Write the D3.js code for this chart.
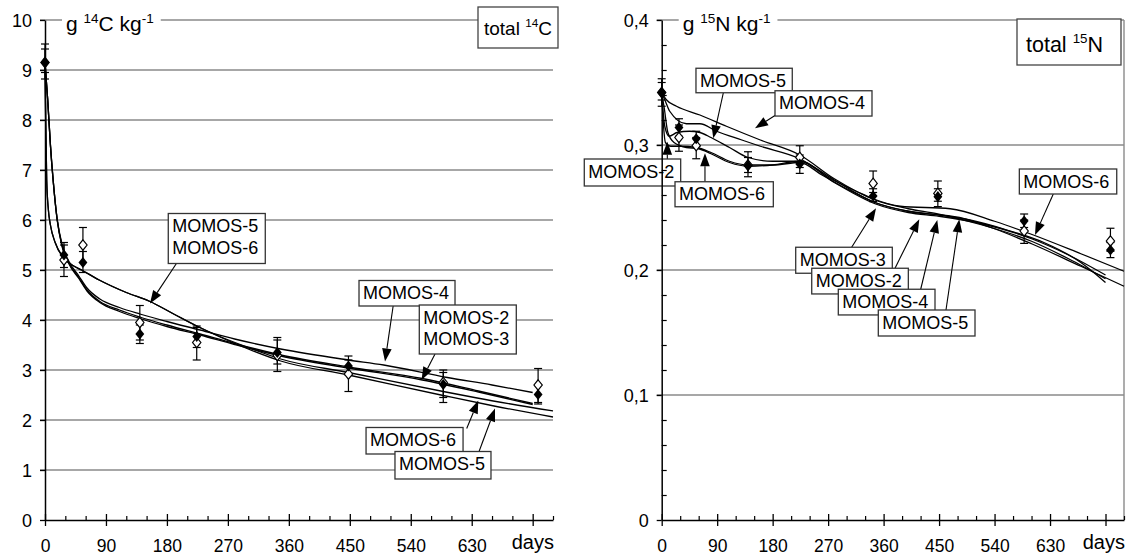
<!DOCTYPE html>
<html lang="en">
  <head>
    <meta charset="utf-8">
    <title>total 14C / total 15N</title>
    <script src="https://cdn.jsdelivr.net/npm/d3@7/dist/d3.min.js"></script>
    <style>
      body { margin: 0; background: #fff; }
      text { font-family: "Liberation Sans", Arial, sans-serif; fill: #000; }
    </style>
  </head>
  <body>
    <svg id="chart" width="1132" height="559"></svg>
    <script>
    // sampling days (both panels)
    var days = [0, 28, 56, 140, 224, 343, 448, 588, 728];

    // total 14C, g 14C kg-1 : filled and open symbols with error bars
    var cFilled   = [9.15, 5.30, 5.15, 3.72, 3.67, 3.35, 3.08, 2.71, 2.51];
    var cFilledLo = [8.82, 5.05, 4.95, 3.53, 3.45, 3.12, 2.90, 2.45, 2.32];
    var cFilledHi = [9.52, 5.55, 5.37, 3.90, 3.88, 3.60, 3.28, 3.00, 2.70];
    var cOpen     = [9.15, 5.20, 5.50, 3.95, 3.55, 3.29, 2.92, 2.75, 2.70];
    var cOpenLo   = [8.95, 4.87, 5.15, 3.60, 3.20, 2.97, 2.57, 2.35, 2.35];
    var cOpenHi   = [9.42, 5.50, 5.85, 4.29, 3.85, 3.65, 3.20, 2.95, 3.03];

    // total 15N, g 15N kg-1
    var nFilled   = [0.342, 0.314, 0.305, 0.2835, 0.2848, 0.2592, 0.2587, 0.2392, 0.2160];
    var nFilledLo = [0.331, 0.307, 0.299, 0.2746, 0.2773, 0.2547, 0.2507, 0.2340, 0.2099];
    var nFilledHi = [0.353, 0.321, 0.311, 0.2946, 0.2920, 0.2650, 0.2650, 0.2448, 0.2220];
    var nOpen     = [0.342, 0.306, 0.2995, 0.284, 0.2901, 0.2693, 0.2613, 0.2312, 0.2232];
    var nOpenLo   = [0.336, 0.295, 0.289, 0.278, 0.2820, 0.2620, 0.2550, 0.2213, 0.2150];
    var nOpenHi   = [0.350, 0.316, 0.306, 0.290, 0.2994, 0.2792, 0.2712, 0.2400, 0.2334];

    // MOMOS simulations, [day, value]
    var c14M2 = [[0,9.15],[4,8.4],[8,7.5],[12,6.8],[18,6.0],[25,5.5],[35,5.15],[50,4.85],[62,4.6],[81,4.37],[110,4.2],[140,4.06],[180,3.9],[229,3.72],[280,3.53],[348,3.3],[448,3.06],[557,2.83],[640,2.58],[720,2.33]];
    var c14M3 = [[0,9.15],[4,8.4],[8,7.5],[12,6.8],[18,6.0],[25,5.48],[35,5.13],[50,4.83],[62,4.58],[81,4.35],[110,4.17],[140,4.03],[180,3.87],[229,3.7],[280,3.51],[348,3.28],[448,3.04],[557,2.8],[640,2.56],[720,2.31]];
    var c14M4 = [[0,9.15],[4,8.4],[8,7.5],[12,6.8],[18,6.02],[25,5.52],[35,5.18],[50,4.88],[62,4.64],[81,4.42],[110,4.25],[140,4.12],[180,3.97],[229,3.8],[280,3.62],[348,3.42],[448,3.2],[500,3.1],[594,2.85],[660,2.7],[720,2.55]];
    var c14M5 = [[0,9.15],[1,8.0],[2.5,6.8],[5,6.2],[8,5.9],[15,5.55],[27,5.25],[40,5.1],[54,5.0],[80,4.8],[120,4.55],[155,4.37],[190,4.12],[224,3.88],[260,3.65],[300,3.42],[348,3.18],[448,2.9],[588,2.49],[663,2.28],[750,2.06]];
    var c14M6 = [[0,9.15],[1,8.0],[2.5,6.8],[5,6.2],[8,5.9],[15,5.55],[27,5.25],[40,5.1],[54,5.0],[80,4.8],[120,4.55],[155,4.37],[190,4.12],[224,3.88],[260,3.66],[300,3.45],[348,3.22],[448,2.95],[588,2.57],[638,2.44],[750,2.18]];

    var n15M2 = [[0,0.342],[3,0.315],[6,0.302],[15,0.299],[30,0.299],[56,0.298],[80,0.294],[110,0.287],[140,0.284],[180,0.284],[224,0.286],[260,0.276],[300,0.265],[346,0.254],[400,0.247],[450,0.244],[500,0.240],[560,0.232],[620,0.222],[680,0.206],[720,0.190]];
    var n15M3 = [[0,0.342],[5,0.315],[12,0.307],[25,0.310],[45,0.311],[62,0.310],[80,0.306],[110,0.298],[140,0.290],[180,0.287],[224,0.287],[280,0.270],[346,0.253],[400,0.246],[450,0.243],[520,0.237],[600,0.225],[660,0.212],[720,0.196]];
    var n15M4 = [[0,0.342],[8,0.336],[24,0.331],[62,0.324],[105,0.315],[160,0.304],[224,0.292],[280,0.273],[346,0.256],[400,0.249],[446,0.245],[520,0.236],[600,0.223],[660,0.209],[720,0.193]];
    var n15M5 = [[0,0.342],[6,0.335],[13,0.327],[40,0.317],[62,0.317],[89,0.311],[130,0.304],[160,0.299],[224,0.289],[280,0.272],[346,0.254],[400,0.247],[483,0.242],[540,0.233],[600,0.221],[680,0.203],[750,0.187]];
    var n15M6 = [[0,0.342],[4,0.330],[10,0.310],[20,0.302],[40,0.298],[60,0.297],[80,0.293],[110,0.286],[140,0.283],[180,0.284],[224,0.287],[270,0.274],[320,0.262],[343,0.257],[387,0.251],[468,0.249],[540,0.239],[603,0.228],[680,0.213],[750,0.199]];

    // axis ticks
    var dayTicks = [0, 90, 180, 270, 360, 450, 540, 630, 720];
    var dayMinor = d3.range(30, 751, 30).filter(function(d){ return d % 90 !== 0; });
    var cTicks = [0, 1, 2, 3, 4, 5, 6, 7, 8, 9, 10];
    var nTicks = [0, 0.1, 0.2, 0.3, 0.4];
    var nMinor = [0.02, 0.04, 0.06, 0.08, 0.12, 0.14, 0.16, 0.18, 0.22, 0.24, 0.26, 0.28, 0.32, 0.34, 0.36, 0.38];

    // callout boxes: box corner (bd,bv), arrow from (ad,av) to tip (td,tv)
    var cCallouts = [
      {lines:["MOMOS-5","MOMOS-6"], bd:182, bv:6.13, w:97, h:50, ad:194, av:5.13, td:155, tv:4.33},
      {lines:["MOMOS-4"], bd:463.6, bv:4.79, w:96, h:25.5, ad:514, av:4.28, td:502, tv:3.17},
      {lines:["MOMOS-2","MOMOS-3"], bd:552.6, bv:4.3, w:97, h:49, ad:575.8, av:3.32, td:556, tv:2.8},
      {lines:["MOMOS-6"], bd:474, bv:1.85, w:97, h:26.5, ad:622.6, av:1.83, td:639.7, tv:2.39},
      {lines:["MOMOS-5"], bd:516.7, bv:1.37, w:96, h:27.5, ad:640.8, av:1.37, td:664.4, tv:2.23}
    ];
    var nCallouts = [
      {lines:["MOMOS-5"], bd:55.6, bv:0.3614, w:96.3, h:24.5, ad:100, av:0.3418, td:83.7, tv:0.3054},
      {lines:["MOMOS-4"], bd:183.8, bv:0.3434, w:97, h:25.3, ad:185, av:0.3240, td:151.4, tv:0.3134},
      {lines:["MOMOS-2"], bd:-125.6, bv:0.2888, w:96.4, h:27, ad:9.1, av:0.2888, td:9.1, tv:0.3026},
      {lines:["MOMOS-6"], bd:21.6, bv:0.2706, w:98.3, h:25, ad:70.2, av:0.2706, td:70.2, tv:0.2934},
      {lines:["MOMOS-6"], bd:580.2, bv:0.2808, w:97.4, h:25, ad:635.3, av:0.2608, td:605.6, tv:0.228},
      {lines:["MOMOS-3"], bd:217.4, bv:0.2182, w:96.6, h:26, ad:308.2, av:0.2182, td:347.7, tv:0.2494},
      {lines:["MOMOS-2"], bd:243.4, bv:0.2014, w:96.6, h:25.7, ad:378.5, av:0.2014, td:417.9, tv:0.2406},
      {lines:["MOMOS-4"], bd:286.5, bv:0.1846, w:96.7, h:25.7, ad:420.2, av:0.1846, td:447.1, tv:0.2400},
      {lines:["MOMOS-5"], bd:351.4, bv:0.168, w:96.7, h:26, ad:461.2, av:0.168, td:482.8, tv:0.2406}
    ];

    var svg = d3.select("#chart");

    // diamond a bit taller than wide
    var diamond = {
      draw: function(ctx, size) {
        var h = Math.sqrt(size) * 0.62, w = h * 0.8;
        ctx.moveTo(0, -h); ctx.lineTo(w, 0); ctx.lineTo(0, h); ctx.lineTo(-w, 0); ctx.closePath();
      }
    };

    function drawPanel(p) {
      var x = d3.scaleLinear().domain([0, 750]).range(p.xr);
      var y = d3.scaleLinear().domain([0, p.ymax]).range([520, 20]);
      var g = svg.append("g");

      // grid lines
      g.selectAll("line.grid")
        .data(p.yticks.filter(function(d){ return d > 0; }))
        .enter().append("line")
          .attr("x1", x(0) - 5).attr("x2", x(750))
          .attr("y1", function(d){ return y(d); })
          .attr("y2", function(d){ return y(d); })
          .attr("stroke", "#8a8a8a").attr("stroke-width", 1.4);

      if (p.rightBorder) {
        g.append("line")
          .attr("x1", x(750)).attr("x2", x(750))
          .attr("y1", y(p.ymax)).attr("y2", y(0))
          .attr("stroke", "#8a8a8a").attr("stroke-width", 1.4);
      }

      // model lines
      var line = d3.line()
        .x(function(d){ return x(d[0]); })
        .y(function(d){ return y(d[1]); })
        .curve(d3.curveMonotoneX);
      p.models.forEach(function(m) {
        g.append("path").datum(m)
          .attr("d", line)
          .attr("fill", "none")
          .attr("stroke", "#000")
          .attr("stroke-width", 1.3);
      });

      // error bars and symbols
      function errorBars(vals, lo, hi) {
        var eb = g.append("g");
        days.forEach(function(d, i) {
          eb.append("line").attr("x1", x(d)).attr("x2", x(d))
            .attr("y1", y(lo[i])).attr("y2", y(hi[i]))
            .attr("stroke", "#000").attr("stroke-width", 1.2);
          [lo[i], hi[i]].forEach(function(v) {
            eb.append("line").attr("x1", x(d) - 4).attr("x2", x(d) + 4)
              .attr("y1", y(v)).attr("y2", y(v))
              .attr("stroke", "#000").attr("stroke-width", 1.2);
          });
        });
      }
      errorBars(p.open, p.openLo, p.openHi);
      errorBars(p.filled, p.filledLo, p.filledHi);

      g.selectAll("path.open").data(p.open).enter().append("path")
        .attr("d", d3.symbol().type(diamond).size(70))
        .attr("transform", function(v, i){ return "translate(" + x(days[i]) + "," + y(v) + ")"; })
        .attr("fill", "#fff").attr("stroke", "#000").attr("stroke-width", 1.2);
      g.selectAll("path.filled").data(p.filled).enter().append("path")
        .attr("d", d3.symbol().type(diamond).size(80))
        .attr("transform", function(v, i){ return "translate(" + x(days[i]) + "," + y(v) + ")"; })
        .attr("fill", "#000");

      // callouts
      p.callouts.forEach(function(c) {
        var x1 = x(c.ad), y1 = y(c.av), x2 = x(c.td), y2 = y(c.tv);
        var ang = Math.atan2(y2 - y1, x2 - x1), L = 13, W = 4.8;
        var bx = x2 - L * Math.cos(ang), by = y2 - L * Math.sin(ang);
        g.append("line").attr("x1", x1).attr("y1", y1).attr("x2", bx).attr("y2", by)
          .attr("stroke", "#000").attr("stroke-width", 1.1);
        g.append("path")
          .attr("d", "M" + x2 + "," + y2 +
                     "L" + (bx + W * Math.sin(ang)) + "," + (by - W * Math.cos(ang)) +
                     "L" + (bx - W * Math.sin(ang)) + "," + (by + W * Math.cos(ang)) + "Z")
          .attr("fill", "#000");
        var left = x(c.bd), top = y(c.bv);
        g.append("rect").attr("x", left).attr("y", top).attr("width", c.w).attr("height", c.h)
          .attr("fill", "#fff").attr("stroke", "#333").attr("stroke-width", 1.3);
        c.lines.forEach(function(t, k) {
          g.append("text").attr("x", left + 4).attr("y", top + 18.5 + k * 21.5)
            .attr("font-size", 18).text(t);
        });
      });

      // y axis
      var ya = g.append("g").attr("transform", "translate(" + x(0) + ",0)")
        .call(d3.axisLeft(y).tickValues(p.yticks).tickSize(5).tickSizeOuter(0)
              .tickPadding(8).tickFormat(p.yfmt));
      ya.attr("font-size", null).attr("font-family", null);
      ya.select(".domain").attr("stroke", "#000").attr("stroke-width", 1.5);
      ya.selectAll(".tick line").attr("stroke", "#000").attr("stroke-width", 1.3);
      ya.selectAll(".tick text").attr("font-size", 18).attr("dy", "0.36em");
      if (p.yminor) {
        var ym = g.append("g").attr("transform", "translate(" + x(0) + ",0)")
          .call(d3.axisRight(y).tickValues(p.yminor).tickSize(5).tickFormat(""));
        ym.select(".domain").remove();
        ym.selectAll(".tick line").attr("stroke", "#000").attr("stroke-width", 1.2);
      }

      // x axis
      var xa = g.append("g").attr("transform", "translate(0,520)")
        .call(d3.axisBottom(x).tickValues(dayTicks).tickSizeInner(6).tickSizeOuter(0)
              .tickPadding(14).tickFormat(function(d){ return d === 720 ? "" : d; }));
      xa.attr("font-size", null).attr("font-family", null);
      xa.select(".domain").attr("stroke", "#000").attr("stroke-width", 1.5);
      xa.selectAll(".tick line").attr("y1", -6).attr("stroke", "#000").attr("stroke-width", 1.3);
      xa.selectAll(".tick text").attr("font-size", 17.5);
      var xm = g.append("g").attr("transform", "translate(0,520)")
        .call(d3.axisTop(x).tickValues(dayMinor).tickSize(4).tickFormat(""));
      xm.select(".domain").remove();
      xm.selectAll(".tick line").attr("stroke", "#000").attr("stroke-width", 1.2);

      g.append("text").attr("x", x(750) + 1).attr("y", 549)
        .attr("text-anchor", "end").attr("font-size", 20).text("days");

      // unit label on top grid line
      var ul = g.append("text").attr("x", x(0) + 21).attr("y", 31).attr("font-size", 21);
      ul.append("tspan").text("g ");
      ul.append("tspan").attr("font-size", 13.5).attr("dy", -8).text(p.iso);
      ul.append("tspan").attr("dy", 8).text(p.el + " kg");
      ul.append("tspan").attr("font-size", 13.5).attr("dy", -8).text("-1");
      var bb = ul.node().getBBox();
      g.insert("rect", "text").attr("x", bb.x - 4).attr("y", bb.y).attr("width", bb.width + 11)
        .attr("height", bb.height).attr("fill", "#fff");
      ul.raise();

      // "total" box
      var tb = p.totalBox;
      g.append("rect").attr("x", x(750) + tb.dx).attr("y", tb.y).attr("width", tb.w).attr("height", tb.h)
        .attr("fill", "#fff").attr("stroke", "#444").attr("stroke-width", 1.3);
      var tt = g.append("text").attr("x", x(750) + tb.dx + tb.pad).attr("y", tb.y + tb.base)
        .attr("font-size", tb.fs);
      tt.append("tspan").text("total ");
      tt.append("tspan").attr("font-size", tb.fs * 0.62).attr("dy", -tb.fs * 0.4).text(p.iso);
      tt.append("tspan").attr("dy", tb.fs * 0.4).text(p.el);
    }

    drawPanel({
      xr: [45, 553], ymax: 10, yticks: cTicks, yfmt: d3.format("d"),
      iso: "14", el: "C",
      filled: cFilled, filledLo: cFilledLo, filledHi: cFilledHi,
      open: cOpen, openLo: cOpenLo, openHi: cOpenHi,
      models: [c14M2, c14M3, c14M4, c14M5, c14M6],
      callouts: cCallouts,
      totalBox: {dx: -75, y: 7, w: 80, h: 41, fs: 19, pad: 6, base: 28}
    });

    drawPanel({
      xr: [661.7, 1124], ymax: 0.4, yticks: nTicks,
      yfmt: function(d){ return d === 0 ? "0" : d3.format(".1f")(d).replace(".", ","); },
      yminor: nMinor, rightBorder: true,
      iso: "15", el: "N",
      filled: nFilled, filledLo: nFilledLo, filledHi: nFilledHi,
      open: nOpen, openLo: nOpenLo, openHi: nOpenHi,
      models: [n15M2, n15M3, n15M4, n15M5, n15M6],
      callouts: nCallouts,
      totalBox: {dx: -107, y: 19, w: 104, h: 46, fs: 21.5, pad: 9, base: 33}
    });
    </script>
  </body>
</html>
